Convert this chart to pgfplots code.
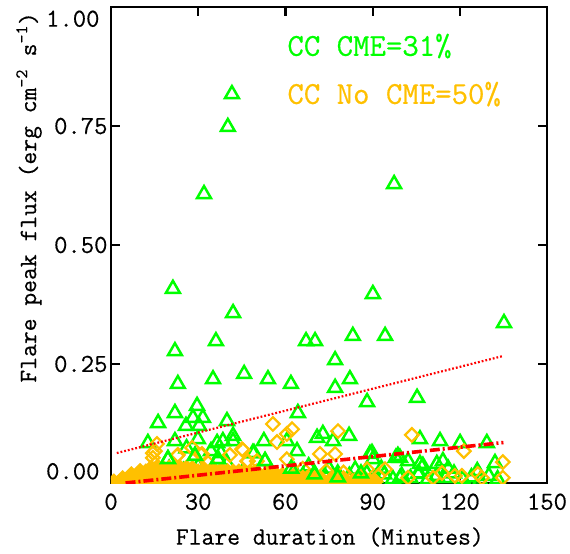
\documentclass[border=0pt]{standalone}
\usepackage{fontspec}
\setmonofont{Latin Modern Mono}[FakeBold=0.5]
\usepackage{pgfplots}
\pgfplotsset{compat=1.18}
\definecolor{cmegreen}{RGB}{0,255,0}
\definecolor{nocme}{RGB}{255,192,0}
\definecolor{fitred}{RGB}{255,0,0}

\begin{document}
\begin{tikzpicture}
\useasboundingbox (-111bp,-71bp) rectangle (459bp,483bp);
\begin{axis}[
    scale only axis,
    width=436bp, height=476bp,
    xmin=0, xmax=150, ymin=0, ymax=1,
    xtick={0,30,60,90,120,150},
    ytick={0,0.25,0.5,0.75,1},
    yticklabels={,0.25,0.50,0.75,},
    minor tick num=0,
    axis line style={line width=2.6bp},
    major tick length=9bp,
    every tick/.style={black, line width=2.2bp},
    tick align=inside,
    xticklabel style={font=\ttfamily\fontsize{26}{28}\selectfont, yshift=-7bp},
    yticklabel style={font=\ttfamily\fontsize{26}{28}\selectfont},
    /pgf/number format/assume math mode=true,
    xlabel={Flare duration (Minutes)},
    ylabel={Flare peak flux (erg cm\textsuperscript{-2} s\textsuperscript{-1})},
    every axis x label/.style={at={(axis description cs:0.502,0)}, anchor=center, yshift=-54bp, font=\ttfamily\fontsize{25}{27}\selectfont},
    every axis y label/.style={at={(axis description cs:0,0.6)}, anchor=center, rotate=90, yshift=82bp, font=\ttfamily\fontsize{25}{27}\selectfont},
    clip mode=individual,
    clip marker paths=true,
]
% CC flares with CME
\addplot[only marks, mark=triangle, mark size=8bp, cmegreen, mark options={solid, line width=2.5bp}]
coordinates {
(41.6,0.817)(40.2,0.748)(32.0,0.607)(97.4,0.628)(21.3,0.408)(90.1,0.397)
(42.0,0.357)(135.2,0.336)(36.1,0.298)(67.1,0.298)(70.2,0.298)(83.2,0.309)
(94.3,0.309)(22.0,0.277)(77.1,0.258)(23.0,0.208)(35.1,0.218)(45.8,0.229)
(54.0,0.218)(61.9,0.208)(77.1,0.200)(82.2,0.218)(88.1,0.170)(105.3,0.179)
(64.3,0.147)(22.0,0.147)(29.6,0.162)(16.2,0.126)(28.2,0.137)(31.6,0.137)
(25.8,0.120)(30.3,0.120)(39.9,0.130)(42.0,0.099)(12.7,0.084)(22.0,0.088)
(29.9,0.092)(36.5,0.084)(38.5,0.088)(42.0,0.088)(52.6,0.088)(60.5,0.088)
(70.9,0.095)(72.9,0.103)(76.4,0.088)(81.9,0.099)(106.3,0.092)(113.2,0.088)
(120.1,0.084)(129.3,0.084)(64.0,0.067)(49.2,0.063)(89.1,0.061)(99.4,0.053)
(106.3,0.040)(114.2,0.046)(132.1,0.042)(19.6,0.050)(26.0,0.073)(28.9,0.057)
(34.4,0.067)(37.8,0.063)(36.8,0.050)(48.8,0.063)(53.0,0.046)(89.8,0.063)
(90.1,0.050)(98.0,0.053)(98.7,0.057)(102.2,0.046)(107.3,0.036)(112.1,0.040)
(99.4,0.010)(105.6,0.019)(10,0.010)(15,0.020)(20,0.030)(25,0.025)(30,0.035)
(35,0.030)(40,0.040)(45,0.020)(50,0.015)(55,0.020)(60,0.010)(63,0.025)
(66,0.015)(70,0.020)(74,0.010)(78,0.020)(82,0.015)(85,0.008)(88,0.020)
(91,0.010)(94,0.018)(97,0.008)(100,0.015)(103,0.010)(106,0.020)(109,0.008)
(112,0.015)(115,0.010)(118,0.020)(121,0.008)(124,0.012)(127,0.005)(130,0.015)
(133,0.008)(68,0.035)(75,0.030)(84,0.028)(93,0.030)(116,0.030)(126,0.025)
};
% CC flares without CME: dense cluster of short, weak flares
\addplot[only marks, mark=square*, mark size=4.8bp, nocme, mark options={solid, rotate=45, line width=2.2bp, draw=nocme, fill=nocme}]
coordinates {
(1,0.003)(3,0.003)(5,0.003)(7,0.003)(9,0.003)(11,0.003)(13,0.003)(15,0.003)
(17,0.003)(19,0.003)(21,0.003)(23,0.003)(25,0.003)(27,0.003)(29,0.003)
(31,0.003)(33,0.003)(35,0.003)(37,0.003)(39,0.003)(41,0.003)(43,0.003)
(45,0.003)(47,0.003)(49,0.003)(51,0.003)(53,0.003)(55,0.003)(57,0.003)
(59,0.003)(61,0.003)(63,0.003)(65,0.004)(67,0.003)(69,0.003)(71,0.004)
(73,0.003)(75,0.003)(77,0.004)(79,0.003)(81,0.003)(83,0.004)(85,0.003)
(87,0.003)(89,0.004)(91,0.003)
(4,0.010)(6,0.011)(8,0.010)(10,0.010)(12,0.011)(14,0.010)
(16,0.010)(18,0.011)(20,0.010)(22,0.010)(24,0.011)(26,0.010)(28,0.010)
(30,0.011)(32,0.010)(34,0.010)(36,0.011)(38,0.010)(40,0.010)(42,0.011)
(44,0.010)(46,0.010)(48,0.011)(50,0.010)(52,0.010)(54,0.011)(56,0.010)
(58,0.010)(60,0.011)(62,0.010)(64,0.010)(66,0.011)(68,0.010)(70,0.010)
(72,0.011)(76,0.010)(80,0.010)
(7,0.018)(9,0.017)(11,0.017)(13,0.018)(15,0.017)
(17,0.017)(19,0.018)(21,0.017)(23,0.017)(25,0.018)(27,0.017)(29,0.017)
(31,0.018)(33,0.017)(35,0.017)(37,0.018)(39,0.017)(41,0.017)(43,0.018)
(45,0.017)(47,0.017)(49,0.018)(51,0.017)(53,0.017)(55,0.018)(57,0.017)
(59,0.017)(63,0.016)
(10,0.025)(12,0.024)(14,0.024)(16,0.025)(18,0.024)
(20,0.024)(22,0.025)(24,0.024)(26,0.024)(28,0.025)(30,0.024)(32,0.024)
(34,0.025)(36,0.024)(38,0.024)(40,0.025)(42,0.024)(44,0.024)(46,0.024)
(48,0.023)(50,0.024)(54,0.021)
(14,0.031)(16,0.031)(18,0.031)(20,0.032)(22,0.031)
(24,0.031)(26,0.032)(28,0.031)(32,0.029)(38,0.028)
};
% CC flares without CME: remaining events
\addplot[only marks, mark=square, mark size=4.8bp, nocme, mark options={solid, rotate=45, line width=2.2bp}]
coordinates {
(55.7,0.124)(62.3,0.113)(60.5,0.103)(78.1,0.109)(57.1,0.086)(103.5,0.101)
(121.4,0.067)(134.8,0.044)(134.8,0.011)(15.8,0.082)(14.4,0.063)(22.7,0.057)
(27.9,0.074)(31.3,0.061)(45.1,0.071)(46.8,0.046)(60.5,0.050)(71.9,0.061)
(77.1,0.061)(15.1,0.040)(50.2,0.046)(88.1,0.029)(94.3,0.029)(102.2,0.011)
(113.9,0.021)(118.3,0.015)(120.7,0.015)(126.2,0.019)(127.6,0.011)(110.8,0.011)
(15.1,0.067)(14.4,0.053)(23.0,0.059)(31.0,0.059)(40.9,0.059)(45.4,0.069)
(47.1,0.046)(33.4,0.042)(66,0.030)(74,0.025)(80,0.022)(86,0.018)(92,0.015)
};
% CC flares with CME lying on the cluster
\addplot[only marks, mark=triangle, mark size=8bp, cmegreen, mark options={solid, line width=2.5bp}]
coordinates {(19.6,0.050)(28.9,0.057)(36.8,0.050)(53.0,0.046)(62,0.030)(70,0.018)(78,0.012)(86,0.020)};
% fits
\addplot[fitred, line width=2.2bp, dash pattern=on 1.8bp off 2.0bp]
coordinates {(2,0.063)(135,0.267)};
\addplot[fitred, line width=3.6bp, dash pattern=on 10bp off 3bp on 2bp off 3bp]
coordinates {(5,0.000)(135,0.085)};
\node[anchor=west, text=cmegreen, font=\ttfamily\fontsize{32}{34}\selectfont] at (axis cs:59.5,0.918) {CC CME=31\%};
\node[anchor=west, text=nocme, font=\ttfamily\fontsize{32}{34}\selectfont] at (axis cs:59.5,0.817) {CC No CME=50\%};
\node[anchor=south east, xshift=-8bp, font=\ttfamily\fontsize{26}{28}\selectfont] at (rel axis cs:0,0) {0.00};
\node[anchor=north east, xshift=-8bp, font=\ttfamily\fontsize{26}{28}\selectfont] at (rel axis cs:0,1) {1.00};
\end{axis}
\end{tikzpicture}
\end{document}
